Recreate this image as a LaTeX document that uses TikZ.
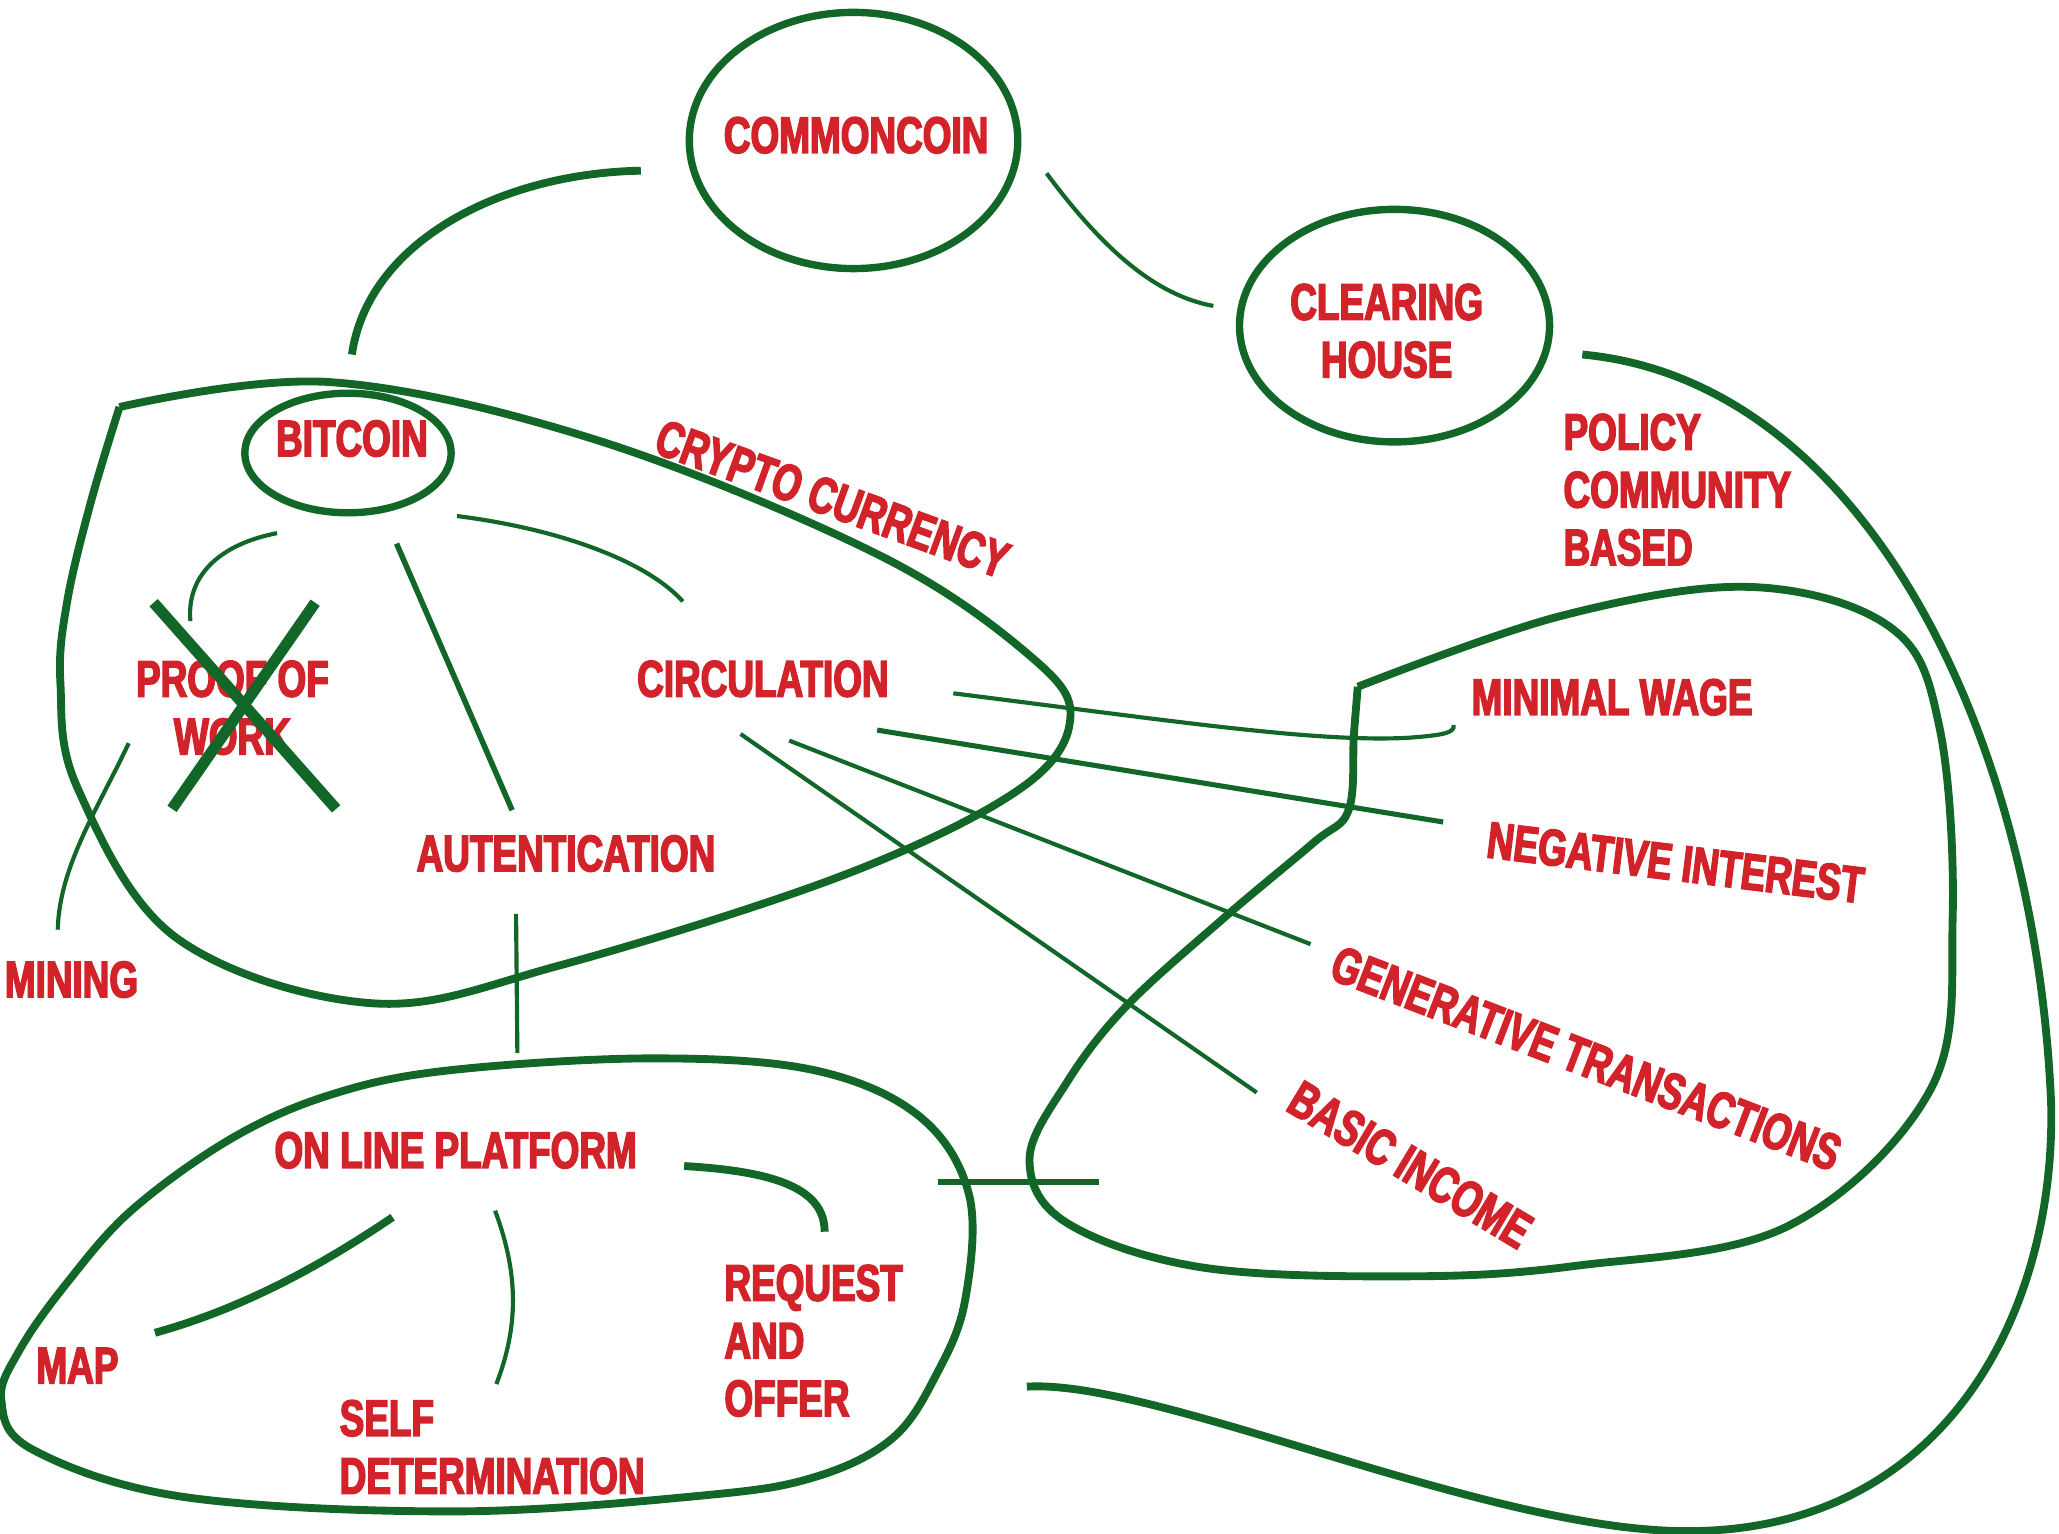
\documentclass[tikz,border=0pt]{standalone}
\usepackage{fontspec}
\setmainfont{Liberation Sans}[FakeStretch=0.72, BoldFeatures={FakeBold=3}]
\usetikzlibrary{shapes.geometric}
\definecolor{leaf}{HTML}{116628}
\definecolor{ink}{HTML}{D2232A}
\begin{document}
\begin{tikzpicture}[x=0.01cm, y=-0.01cm,
  lbl/.style={text=ink, font=\fontsize{11.1}{12.5}\selectfont\bfseries, inner sep=0pt},
  bubble/.style={draw=leaf, ellipse, line width=1.6pt, inner sep=0pt},
  heavy/.style={draw=leaf, line width=1.7pt},
  light/.style={draw=leaf, line width=0.9pt},
  cross/.style={draw=leaf, line width=2.4pt}]
\useasboundingbox (0,0) rectangle (1568,1168);
% bubbles
\node[bubble, minimum width=2.5cm, minimum height=1.95cm] (coin) at (650,107) {};
\node[bubble, minimum width=2.36cm, minimum height=1.77cm] (clear) at (1062,248) {};
\node[bubble, minimum width=1.57cm, minimum height=0.91cm] (btc) at (265,345) {};
\node[lbl] (coin_t) at (652,103) {COMMONCOIN};
\node[lbl, align=center] (clear_t) at (1056,252) {CLEARING\\HOUSE};
\node[lbl] (btc_t) at (268,334) {BITCOIN};
% labels
\node[lbl, align=left, anchor=west] (policy) at (1190,373) {POLICY\\COMMUNITY\\BASED};
\node[lbl, align=center] (pow) at (177,539) {PROOF OF\\WORK};
\node[lbl] (circ) at (581,517) {CIRCULATION};
\node[lbl] (auth) at (431,650) {AUTENTICATION};
\node[lbl, anchor=west] (mining) at (3,746) {MINING};
\node[lbl, rotate=-20] (crypto) at (634,380) {CRYPTO CURRENCY};
\node[lbl, anchor=west] (wage) at (1120,531) {MINIMAL WAGE};
\node[lbl, rotate=-7] (neg) at (1276,657) {NEGATIVE INTEREST};
\node[lbl, rotate=-21] (gen) at (1208,806) {GENERATIVE TRANSACTIONS};
\node[lbl, rotate=-31] (basic) at (1074,887) {BASIC INCOME};
\node[lbl] (online) at (347,876) {ON LINE PLATFORM};
\node[lbl] (map) at (59,1040) {MAP};
\node[lbl, align=left, anchor=west] (self) at (258,1102) {SELF\\DETERMINATION};
\node[lbl, align=left, anchor=west] (req) at (551,1021) {REQUEST\\AND\\OFFER};
% free ends
\coordinate (coin_w) at (488,130);
\coordinate (coin_e) at (797,132);
\coordinate (btc_n) at (268,270);
\coordinate (clear_w) at (924,233);
\coordinate (clear_e) at (1205,270);
\coordinate (loop_end) at (782,1056);
\coordinate (btc_sw) at (211,406);
\coordinate (btc_s) at (302,414);
\coordinate (btc_se) at (348,393);
\coordinate (pow_n) at (145,473);
\coordinate (pow_sw) at (98,566);
\coordinate (mining_n) at (44,708);
\coordinate (auth_n) at (390,617);
\coordinate (auth_s) at (393,696);
\coordinate (online_n) at (394,802);
\coordinate (circ_n) at (520,458);
\coordinate (circ_e1) at (726,528);
\coordinate (circ_e2) at (668,556);
\coordinate (circ_s1) at (601,564);
\coordinate (circ_s2) at (564,559);
\coordinate (wage_w) at (1107,552);
\coordinate (neg_w) at (1099,626);
\coordinate (gen_w) at (998,719);
\coordinate (basic_w) at (957,832);
\coordinate (map_e) at (118,1015);
\coordinate (online_sw) at (299,927);
\coordinate (online_s) at (377,922);
\coordinate (self_n) at (378,1054);
\coordinate (online_e) at (521,888);
\coordinate (req_n) at (628,938);
\coordinate (bar_w) at (714,900);
\coordinate (bar_e) at (837,900);
% regions
\draw[heavy] plot[smooth, tension=0.6] coordinates {(91,310) (251,291) (454,335) (668,422) (785,500) (815,548) (775,602) (641,667) (427,735) (283,764) (134,714) (59,600) (46,520) (51,459) (69,383) (91,310)};
\draw[heavy] plot[smooth, tension=0.6] coordinates {(1034,523) (1189,469) (1333,447) (1440,478) (1477,554) (1487,700) (1470,830) (1361,934) (1200,964) (1070,972) (914,965) (812,931) (784,883) (812,825) (857,767) (931,700) (1000,642) (1027,617) (1031,560) (1034,523)};
\draw[heavy] plot[smooth cycle, tension=0.6] coordinates {(497,806) (620,815) (700,850) (738,910) (735,990) (714,1045) (680,1095) (620,1125) (534,1139) (347,1151) (140,1140) (25,1104) (1,1066) (15,1028) (51,977) (101,921) (178,866) (254,833) (343,815)};
% connectors
\draw[heavy] (coin_w) .. controls (380,132) and (280,185) .. (btc_n);
\draw[light] (coin_e) .. controls (840,190) and (880,225) .. (clear_w);
\draw[heavy] (clear_e) .. controls (1420,290) and (1550,560) .. (1562,840)
  .. controls (1566,1000) and (1480,1168) .. (1282,1166)
  .. controls (1130,1165) and (880,1050) .. (loop_end);
\draw[light] (btc_sw) .. controls (165,415) and (142,440) .. (pow_n);
\draw[light, line width=1.2pt] (btc_s) -- (auth_n);
\draw[light] (btc_se) .. controls (420,402) and (490,425) .. (circ_n);
\draw[light] (pow_sw) .. controls (75,615) and (45,660) .. (mining_n);
\draw[light] (auth_s) -- (online_n);
\draw[light] (circ_e1) .. controls (900,550) and (1000,565) .. (1070,562) .. controls (1100,560) and (1108,558) .. (wage_w);
\draw[light, line width=1.1pt] (circ_e2) -- (neg_w);
\draw[light] (circ_s1) -- (gen_w);
\draw[light] (circ_s2) -- (basic_w);
\draw[heavy] (map_e) .. controls (190,995) and (250,960) .. (online_sw);
\draw[light] (online_s) .. controls (395,970) and (395,1010) .. (self_n);
\draw[heavy] (online_e) .. controls (590,892) and (628,905) .. (req_n);
\draw[light, line width=1.2pt] (bar_w) -- (bar_e);
% crossed out
\draw[cross] (117,459) -- (256,616);
\draw[cross] (240,459) -- (131,616);
\end{tikzpicture}
\end{document}
